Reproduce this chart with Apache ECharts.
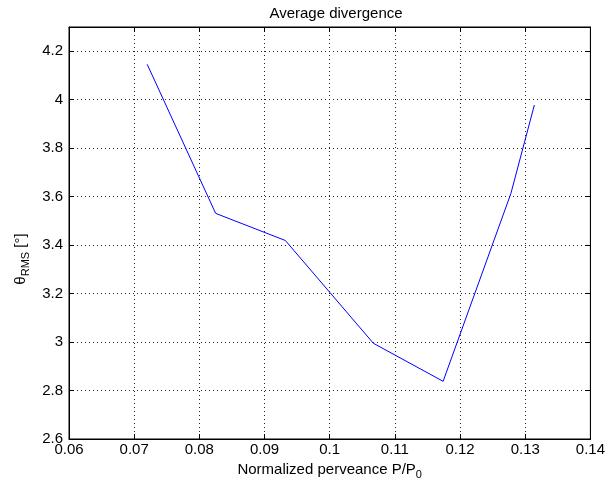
<!DOCTYPE html>
<html>
<head>
<meta charset="utf-8">
<script src="https://cdn.jsdelivr.net/npm/echarts@6/dist/echarts.min.js"></script>
<style>html,body{margin:0;padding:0;background:#fff}#c{width:608px;height:489px}</style>
</head>
<body>
<div id="c"></div>
<script>
const perveance = [0.0720, 0.0825, 0.0932, 0.1067, 0.1174, 0.1278, 0.1314];
const thetaRms = [4.146, 3.531, 3.419, 2.995, 2.838, 3.613, 3.978];
const xTicks = {min: 0.06, max: 0.14, step: 0.01};
const yTicks = {min: 2.6, max: 4.3, step: 0.2};

const points = perveance.map((x, i) => [x, thetaRms[i]]);
const font = '"Liberation Sans", Arial, sans-serif';
const dotted = {show: true, lineStyle: {color: '#222', width: 1, type: [1, 3]}};
const axisLine = {show: true, onZero: false, lineStyle: {color: '#000', width: 1}};
const tick = {show: true, inside: true, length: 5, lineStyle: {color: '#000'}};

const chart = echarts.init(document.getElementById('c'));
chart.setOption({
  animation: false,
  backgroundColor: '#fff',
  title: {
    text: 'Average divergence', left: 331, top: 1, textAlign: 'center',
    textStyle: {fontFamily: font, fontSize: 15, fontWeight: 'normal', color: '#000'}
  },
  grid: {left: 69, right: 16, top: 27, bottom: 50, show: true, borderColor: '#000', borderWidth: 1},
  xAxis: [{
    type: 'value', min: xTicks.min, max: xTicks.max, interval: xTicks.step,
    axisLine: axisLine, axisTick: tick, splitLine: dotted,
    axisLabel: {color: '#000', fontFamily: font, fontSize: 15, margin: 3,
      formatter: v => String(+v.toFixed(2))},
    name: 'Normalized perveance P/P{sub|0}', nameLocation: 'middle', nameGap: 21,
    nameTextStyle: {color: '#000', fontFamily: font, fontSize: 15,
      rich: {sub: {fontSize: 11, padding: [9, 0, 0, 0], fontFamily: font, color: '#000'}}}
  }, {
    type: 'value', position: 'top', min: xTicks.min, max: xTicks.max, interval: xTicks.step,
    axisLine: axisLine, axisTick: tick, axisLabel: {show: false}, splitLine: {show: false}
  }],
  yAxis: [{
    type: 'value', min: yTicks.min, max: yTicks.max, interval: yTicks.step,
    axisLine: axisLine, axisTick: tick, splitLine: dotted,
    axisLabel: {color: '#000', fontFamily: font, fontSize: 15, margin: 6, showMaxLabel: false,
      formatter: v => String(+v.toFixed(1))},
    name: 'θ{sub|RMS} [°]', nameLocation: 'middle', nameGap: 35,
    nameTextStyle: {color: '#000', fontFamily: font, fontSize: 15, padding: [0, 52, 0, 0],
      rich: {sub: {fontSize: 11, padding: [9, 0, 0, 0], fontFamily: font, color: '#000'}}}
  }, {
    type: 'value', position: 'right', min: yTicks.min, max: yTicks.max, interval: yTicks.step,
    axisLine: axisLine, axisTick: tick, axisLabel: {show: false}, splitLine: {show: false}
  }],
  series: [{
    type: 'line', data: points, showSymbol: false, symbol: 'none',
    lineStyle: {color: '#0000ff', width: 1}, xAxisIndex: 0, yAxisIndex: 0
  }]
});
</script>
</body>
</html>
